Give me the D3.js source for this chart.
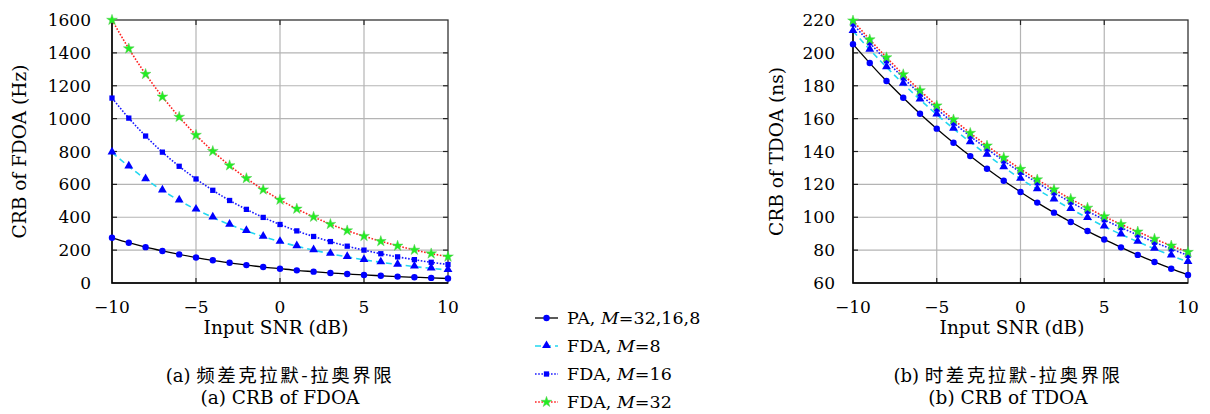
<!DOCTYPE html>
<html>
<head>
<meta charset="utf-8">
<script src="https://cdn.jsdelivr.net/npm/d3@7"></script>
<style>
  body { margin: 0; background: #fff; }
  text { font-family: "DejaVu Serif", "Noto Sans CJK SC", serif; fill: #000; }
  .cjk { font-family: "Noto Sans CJK SC", sans-serif; }
</style>
</head>
<body>
<div id="chart"></div>
<script>
// SNR values (dB)
var snr = d3.range(-10, 11, 1);

// CRB of FDOA (Hz)
var fdoaPA = [275, 245, 218, 195, 174, 155, 138, 123, 109, 97, 87, 77, 69, 61, 55, 49, 44, 39, 35, 31, 27.5];
var fdoaM8 = [795, 709, 632, 563, 502, 447, 399, 355, 317, 282, 251, 224, 200, 178, 159, 141, 126, 112, 100, 89, 79.5];
var fdoaM16 = [1125, 1003, 894, 796, 710, 633, 564, 502, 448, 399, 356, 317, 283, 252, 224, 200, 178, 159, 142, 126, 112.5];
var fdoaM32 = [1600, 1426, 1271, 1133, 1010, 900, 802, 715, 637, 568, 506, 451, 402, 358, 319, 285, 254, 226, 201, 179, 160];

// CRB of TDOA (ns)
var tdoaPA = [205.3, 193.8, 182.9, 172.7, 163.0, 153.9, 145.3, 137.2, 129.5, 122.2, 115.4, 108.9, 102.8, 97.1, 91.6, 86.5, 81.7, 77.1, 72.8, 68.7, 64.9];
var tdoaM8 = [213.3, 202.0, 191.3, 181.2, 171.6, 162.5, 153.9, 145.7, 138.0, 130.5, 123.4, 117.0, 110.9, 105.1, 99.6, 94.4, 89.6, 85.1, 80.8, 76.7, 72.8];
var tdoaM16 = [217.6, 206.1, 195.2, 184.8, 175.0, 165.9, 157.4, 149.3, 141.6, 134.3, 127.4, 121.0, 114.9, 109.2, 103.7, 98.5, 93.7, 89.2, 84.8, 80.7, 76.8];
var tdoaM32 = [219.6, 208.1, 197.2, 186.9, 177.1, 167.9, 159.4, 151.2, 143.5, 136.2, 129.3, 122.9, 116.9, 111.1, 105.7, 100.5, 95.7, 91.2, 86.8, 82.7, 78.8];

// tick labels
var xTicks = [-10, -5, 0, 5, 10];
var fdoaTicks = [0, 200, 400, 600, 800, 1000, 1200, 1400, 1600];
var tdoaTicks = [60, 80, 100, 120, 140, 160, 180, 200, 220];

var seriesNames = ["PA, M=32,16,8", "FDA, M=8", "FDA, M=16", "FDA, M=32"];

// styles for each series
var styles = [
    { stroke: "#000000", dash: null, width: 1.3, marker: "circle" },
    { stroke: "#22d8f0", dash: "6,4", width: 1.6, marker: "triangle" },
    { stroke: "#1a1aff", dash: "1.6,1.6", width: 1.6, marker: "square" },
    { stroke: "#ff2020", dash: "1.6,1.6", width: 1.6, marker: "star" }
];

var svg = d3.select("#chart").append("svg")
    .attr("width", 1210)
    .attr("height", 414);

function drawMarker(g, type, x, y) {
    if (type === "circle") {
        g.append("circle").attr("cx", x).attr("cy", y).attr("r", 3.2).attr("fill", "#0000ff");
    } else if (type === "triangle") {
        g.append("path").attr("d", d3.symbol().type(d3.symbolTriangle).size(34)())
            .attr("transform", `translate(${x},${y - 0.5})`).attr("fill", "#0000ff");
    } else if (type === "square") {
        g.append("path").attr("d", d3.symbol().type(d3.symbolSquare).size(28)())
            .attr("transform", `translate(${x},${y})`).attr("fill", "#0000ff");
    } else {
        g.append("path").attr("d", d3.symbol().type(d3.symbolStar).size(36)())
            .attr("transform", `translate(${x},${y})`).attr("fill", "#22ee22")
            .attr("stroke", "#55cc55").attr("stroke-width", 0.5);
    }
}

// caption: "(a) " in serif, CJK part spaced out
function caption(g, x, y, prefix, cjk) {
    var t = g.append("text").attr("x", x).attr("y", y)
        .attr("text-anchor", "middle").attr("font-size", 18);
    t.append("tspan").text(prefix);
    t.append("tspan").attr("class", "cjk").attr("font-size", 18.5)
        .attr("letter-spacing", 2.5).text(cjk);
}

function drawPanel(opt) {
    var g = svg.append("g");
    var x = d3.scaleLinear().domain([-10, 10]).range([opt.left, opt.right]);
    var y = d3.scaleLinear().domain(opt.domain).range([opt.bottom, opt.top]);

    // grid
    g.selectAll(".vgrid").data(xTicks.slice(1, -1)).enter().append("line")
        .attr("x1", d => x(d)).attr("x2", d => x(d))
        .attr("y1", opt.top).attr("y2", opt.bottom)
        .attr("stroke", "#b4b4b4").attr("stroke-width", 1.2);
    g.selectAll(".hgrid").data(opt.yTicks.slice(1, -1)).enter().append("line")
        .attr("x1", opt.left).attr("x2", opt.right)
        .attr("y1", d => y(d)).attr("y2", d => y(d))
        .attr("stroke", "#b4b4b4").attr("stroke-width", 1.2);

    // inner ticks
    opt.yTicks.slice(1, -1).forEach(function (d) {
        g.append("line").attr("x1", opt.left).attr("x2", opt.left + 5)
            .attr("y1", y(d)).attr("y2", y(d)).attr("stroke", "#222").attr("stroke-width", 1.2);
        g.append("line").attr("x1", opt.right - 5).attr("x2", opt.right)
            .attr("y1", y(d)).attr("y2", y(d)).attr("stroke", "#222").attr("stroke-width", 1.2);
    });
    xTicks.slice(1, -1).forEach(function (d) {
        g.append("line").attr("x1", x(d)).attr("x2", x(d))
            .attr("y1", opt.top).attr("y2", opt.top + 5).attr("stroke", "#222").attr("stroke-width", 1.2);
        g.append("line").attr("x1", x(d)).attr("x2", x(d))
            .attr("y1", opt.bottom - 5).attr("y2", opt.bottom).attr("stroke", "#222").attr("stroke-width", 1.2);
    });

    // frame
    g.append("rect").attr("x", opt.left).attr("y", opt.top)
        .attr("width", opt.right - opt.left).attr("height", opt.bottom - opt.top)
        .attr("fill", "none").attr("stroke", "#333").attr("stroke-width", 1.3);
    g.append("path").attr("d", `M${opt.left},${opt.top}V${opt.bottom}H${opt.right}`)
        .attr("fill", "none").attr("stroke", "#000").attr("stroke-width", 1.4);

    // tick labels
    g.selectAll(".ylab").data(opt.yTicks).enter().append("text")
        .attr("x", opt.labelRight).attr("y", d => y(d) + 6)
        .attr("text-anchor", "end").attr("font-size", 17)
        .text(d => d);
    g.selectAll(".xlab").data(xTicks).enter().append("text")
        .attr("x", d => x(d)).attr("y", opt.bottom + 30)
        .attr("text-anchor", "middle").attr("font-size", 17)
        .text(d => d < 0 ? "\u2212" + Math.abs(d) : d);

    // axis titles
    g.append("text")
        .attr("transform", `translate(${opt.yTitleX}, ${(opt.top + opt.bottom) / 2}) rotate(-90)`)
        .attr("text-anchor", "middle").attr("font-size", 18.5)
        .text(opt.yTitle);
    g.append("text")
        .attr("x", opt.xTitleX).attr("y", opt.bottom + 51)
        .attr("text-anchor", "middle").attr("font-size", 18.5)
        .text("Input SNR (dB)");

    // series
    var line = d3.line()
        .x((d, i) => x(snr[i]))
        .y(d => y(d))
        .curve(d3.curveMonotoneX);

    opt.series.forEach(function (vals, k) {
        var s = styles[k];
        g.append("path").datum(vals)
            .attr("d", line)
            .attr("fill", "none")
            .attr("stroke", s.stroke)
            .attr("stroke-width", s.width)
            .attr("stroke-dasharray", s.dash);
    });
    opt.series.forEach(function (vals, k) {
        vals.forEach(function (v, i) {
            drawMarker(g, styles[k].marker, x(snr[i]), y(v));
        });
    });

    // captions
    caption(g, opt.capX, 382, opt.capPrefix, opt.capCjk);
    g.append("text").attr("x", opt.capX).attr("y", 404)
        .attr("text-anchor", "middle").attr("font-size", 18.5)
        .text(opt.cap2);
}

drawPanel({
    left: 112, right: 448, top: 20, bottom: 283,
    domain: [0, 1600], yTicks: fdoaTicks,
    series: [fdoaPA, fdoaM8, fdoaM16, fdoaM32],
    labelRight: 91, yTitleX: 26, yTitle: "CRB of FDOA (Hz)",
    xTitleX: 276, capX: 280,
    capPrefix: "(a) ", capCjk: "频差克拉默-拉奥界限", cap2: "(a) CRB of FDOA"
});

drawPanel({
    left: 853, right: 1188, top: 20, bottom: 283,
    domain: [60, 220], yTicks: tdoaTicks,
    series: [tdoaPA, tdoaM8, tdoaM16, tdoaM32],
    labelRight: 835, yTitleX: 783, yTitle: "CRB of TDOA (ns)",
    xTitleX: 1012, capX: 1008,
    capPrefix: "(b) ", capCjk: "时差克拉默-拉奥界限", cap2: "(b) CRB of TDOA"
});

// legend
var legend = svg.append("g");
var legendY = [318, 346, 374, 402];
seriesNames.forEach(function (name, k) {
    var s = styles[k];
    var yy = legendY[k];
    legend.append("line").attr("x1", 535).attr("x2", 558)
        .attr("y1", yy).attr("y2", yy)
        .attr("stroke", s.stroke).attr("stroke-width", s.width)
        .attr("stroke-dasharray", s.dash);
    drawMarker(legend, s.marker, 546.5, yy);
    var parts = name.split("M=");
    var t = legend.append("text").attr("x", 567).attr("y", yy + 6).attr("font-size", 17.5);
    t.append("tspan").text(parts[0]);
    t.append("tspan").attr("font-style", "italic").text("M");
    t.append("tspan").text("=" + parts[1]);
});
</script>
</body>
</html>
